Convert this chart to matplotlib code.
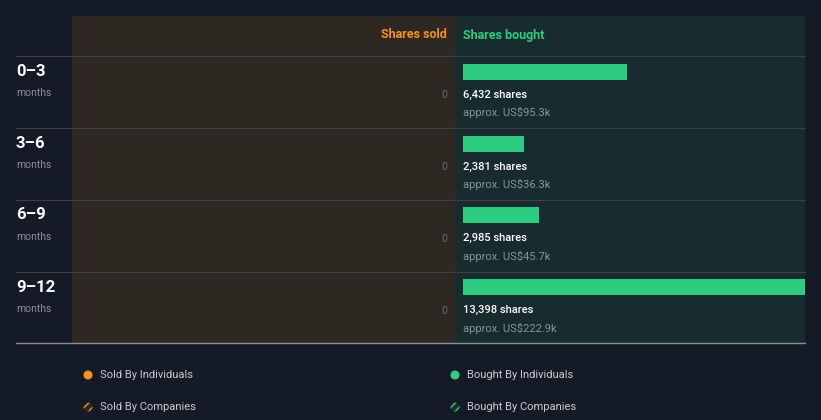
import matplotlib
matplotlib.use("Agg")
import matplotlib.pyplot as plt
from matplotlib.patches import Rectangle, Ellipse

periods = ["0–3", "3–6", "6–9", "9–12"]
period_unit = "months"
sold_shares = [0, 0, 0, 0]
bought_shares = [6432, 2381, 2985, 13398]
bought_labels = ["6,432 shares", "2,381 shares", "2,985 shares", "13,398 shares"]
bought_value_labels = ["approx. US$95.3k", "approx. US$36.3k", "approx. US$45.7k", "approx. US$222.9k"]
legend_labels = ["Sold By Individuals", "Bought By Individuals", "Sold By Companies", "Bought By Companies"]

W, H = 821, 420
BG = "#151b26"
SOLD_BG = "#2d2822"
BOUGHT_BG = "#182b2e"
ORANGE = "#f39317"
GREEN = "#2ecc80"
GRID = "#3c4046"
FONT = ["Roboto", "DejaVu Sans"]
plt.rcParams["font.family"] = FONT

fig = plt.figure(figsize=(W / 100, H / 100), dpi=100, facecolor=BG)

def fx(x):
    return x / W

def fy(y):
    return 1 - y / H

def rect(x0, y0, x1, y1, color, z=0):
    fig.patches.append(Rectangle((fx(x0), fy(y1)), fx(x1) - fx(x0), fy(y0) - fy(y1),
                                 transform=fig.transFigure, color=color, zorder=z, lw=0))

def hline(y, x0, x1, color, lw=1.0):
    fig.add_artist(plt.Line2D([fx(x0), fx(x1)], [fy(y), fy(y)], transform=fig.transFigure,
                              color=color, lw=lw, zorder=2))

def text(x, y, s, **kw):
    fig.text(fx(x), fy(y), s, **kw)

# panels
rect(72, 16, 455, 343, SOLD_BG)
rect(455, 16, 805, 343, BOUGHT_BG)

# header
text(447, 35, "Shares sold", color=ORANGE, fontsize=9, fontweight="bold", ha="right", va="center")
text(463, 35, "Shares bought", color=GREEN, fontsize=9, fontweight="bold", ha="left", va="center")

row_top = 56
row_h = 72
for i in range(len(periods) + 1):
    y = row_top + i * row_h
    if i == len(periods):
        hline(343, 16, 805, "#8a8f96", lw=1.0)
    else:
        hline(y, 16, 805, GRID, lw=0.8)

# bars axes in bought panel
ax = fig.add_axes([fx(463), fy(343), fx(805) - fx(463), fy(56) - fy(343)], zorder=5)
ax.set_xlim(0, max(bought_shares))
ax.set_ylim(len(periods), 0)
ax.axis("off")
ax.patch.set_alpha(0)
bar_off = 8 / row_h
bar_h = 16 / row_h
ax.barh([i + bar_off + bar_h / 2 for i in range(len(periods))], bought_shares,
        height=bar_h, color=GREEN, left=0)
for i in range(len(periods)):
    ax.text(0, i + 39 / row_h, bought_labels[i], color="white", fontsize=8,
            fontweight="medium", va="center", ha="left")
    ax.text(0, i + 57 / row_h, bought_value_labels[i], color="#8a9396", fontsize=8, va="center", ha="left")

for i, p in enumerate(periods):
    y0 = row_top + i * row_h
    text(16, y0 + 15, p, color="white", fontsize=12, fontweight="bold", ha="left", va="center")
    text(16, y0 + 37, period_unit, color="#8b8f96", fontsize=7.5, ha="left", va="center")
    text(447, y0 + 39, f"{sold_shares[i]:,}", color="#6e6b66", fontsize=7.5, ha="right", va="center")

# legend
lx = [88, 455]
ly = [375, 407]
cols = [ORANGE, GREEN]
for r in range(2):
    for c in range(2):
        label = legend_labels[r * 2 + c]
        x, y = lx[c], ly[r]
        if r == 0:
            e = Ellipse((fx(x), fy(y)), 9 / W, 9 / H, transform=fig.transFigure,
                        color=cols[c], lw=0, zorder=3)
        else:
            e = Ellipse((fx(x), fy(y)), 9 / W, 9 / H, transform=fig.transFigure,
                        facecolor="#2a2620" if c == 0 else "#17302a", edgecolor=cols[c],
                        hatch="////", lw=0, zorder=3)
        fig.patches.append(e)
        text(x + 12, y, label, color="#c8ccd0", fontsize=8, ha="left", va="center")

fig.savefig("out.png", dpi=100, facecolor=BG)
